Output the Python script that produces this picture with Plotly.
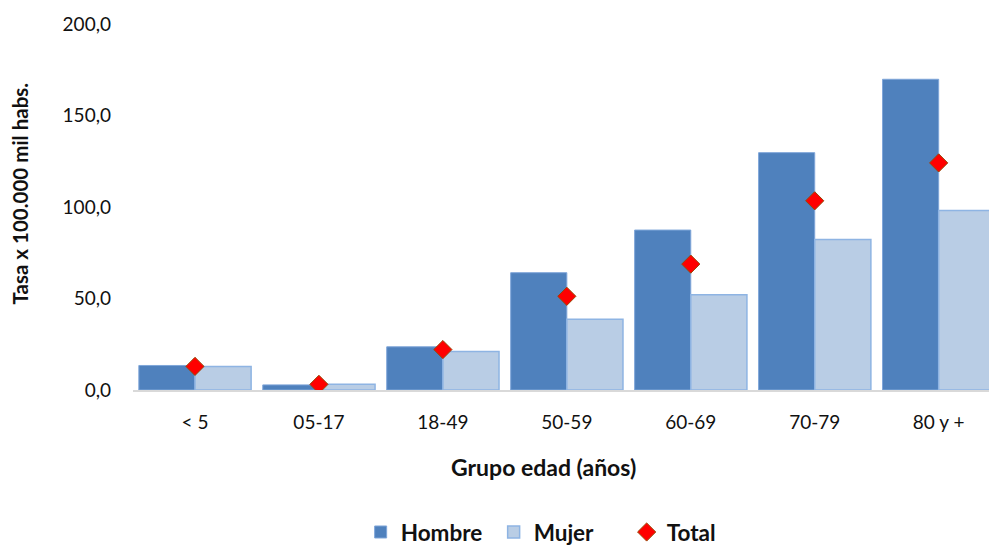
import plotly.graph_objects as go

categories = ["< 5", "05-17", "18-49", "50-59", "60-69", "70-79", "80 y +"]
hombre = [13.4, 2.8, 23.6, 64.1, 87.4, 129.7, 169.8]
mujer = [12.8, 3.2, 21.0, 38.6, 52.1, 82.3, 98.1]
total = [12.9, 3.1, 22.1, 51.2, 68.8, 103.4, 124.1]
y_ticks = [0, 50, 100, 150, 200]

FONT = "Lato"
TXT = "#111111"

fig = go.Figure()
fig.add_trace(go.Bar(
    x=categories, y=hombre, name="Hombre",
    marker=dict(color="#4F81BD", line=dict(color="#7FA6D9", width=1)),
))
fig.add_trace(go.Bar(
    x=categories, y=mujer, name="Mujer",
    marker=dict(color="#B9CDE5", line=dict(color="#8EB4E3", width=1.5)),
))
fig.add_trace(go.Scatter(
    x=categories, y=total, name="Total", mode="markers",
    marker=dict(symbol="diamond", size=14, color="#FF0000",
                line=dict(color="#984807", width=1)),
))

fig.update_layout(
    width=989, height=554,
    margin=dict(l=133, r=0, t=23.6, b=158.8),
    paper_bgcolor="white", plot_bgcolor="white",
    separators=",.",
    barmode="group", bargap=0.094, bargroupgap=0,
    font=dict(family=FONT, size=19, color=TXT),
    showlegend=True,
    legend=dict(orientation="h", x=0.499, xanchor="center",
                y=-0.389, yanchor="middle",
                font=dict(family=FONT, size=22.5, color=TXT, weight="bold"),
                itemwidth=30, traceorder="normal",
                entrywidth=88, entrywidthmode="pixels"),
    xaxis=dict(type="category", range=[-0.5, 6.406],
               showline=True, linecolor="#D9D9D9", linewidth=1.5,
               showgrid=False, ticks="", ticklabelstandoff=14,
               tickfont=dict(size=19)),
    yaxis=dict(range=[0, 200], tickvals=y_ticks, tickformat=".1f",
               showgrid=False, zeroline=False, showline=False,
               ticks="", ticklabelstandoff=21, tickfont=dict(size=19)),
    annotations=[
        dict(text="<b>Grupo edad (años)</b>", xref="paper", yref="paper",
             x=0.479, y=-0.211, xanchor="center", yanchor="middle",
             showarrow=False, font=dict(family=FONT, size=23, color=TXT)),
        dict(text="<b>Tasa x 100.000 mil habs.</b>", xref="paper", yref="paper",
             x=-0.132, y=0.537, xanchor="center", yanchor="middle", textangle=-90,
             showarrow=False, font=dict(family=FONT, size=20.5, color=TXT)),
    ],
)

page_css = (
    "var s=document.createElement('style');"
    "s.textContent='html,body{margin:0;padding:0;overflow:hidden;}';"
    "document.head.appendChild(s);"
)

fig.write_html(
    "out.html",
    config={"displayModeBar": False},
    post_script=page_css,
)
